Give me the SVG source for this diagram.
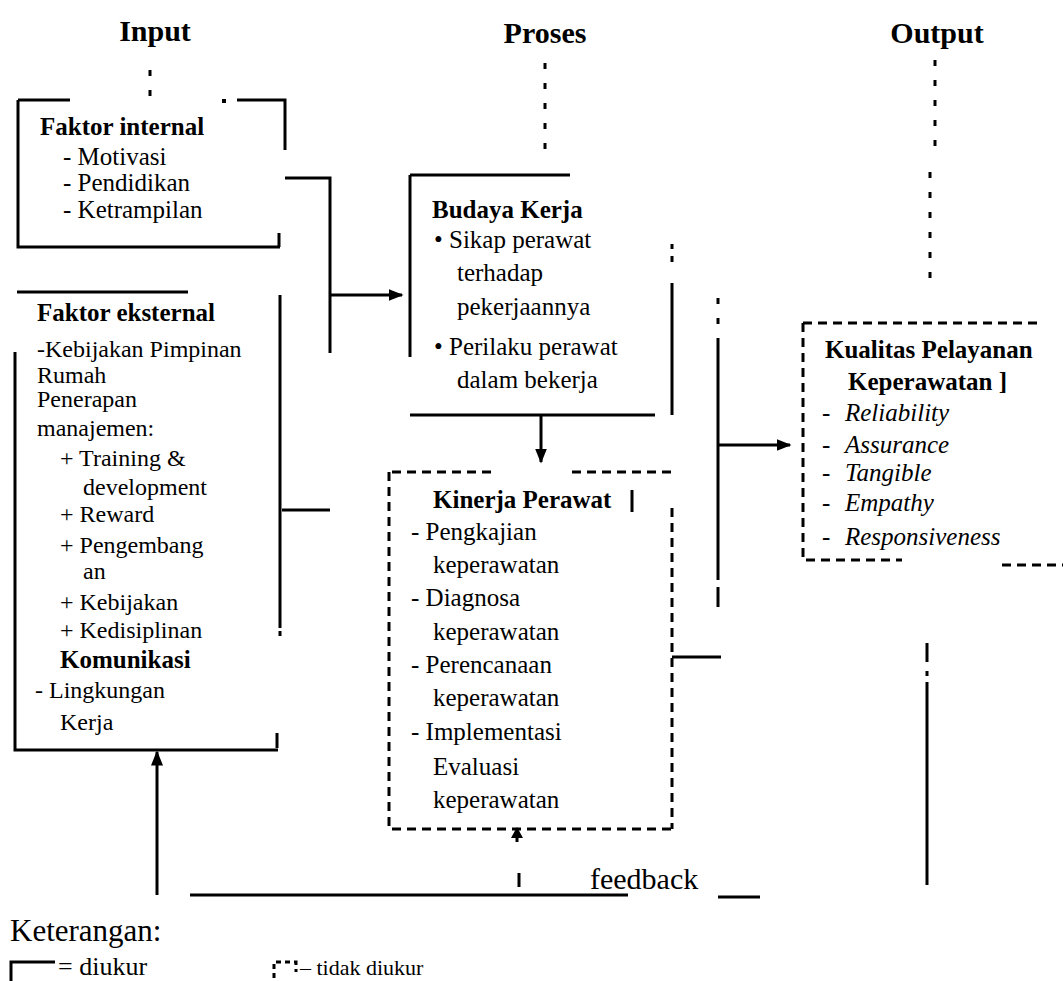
<svg xmlns="http://www.w3.org/2000/svg" width="1063" height="981" viewBox="0 0 1063 981">
<defs>
<style>
text{font-family:"Liberation Serif","Times New Roman",serif;fill:#000}
.t{font-size:30px;font-weight:bold;text-anchor:middle}
.b{font-size:25px;font-weight:bold}
.r{font-size:25px}
.e{font-size:24px}
.i{font-size:25px;font-style:italic}
.s{fill:none;stroke:#000;stroke-width:3}
.d{fill:none;stroke:#000;stroke-width:3;stroke-dasharray:9 6}
.o{fill:none;stroke:#000;stroke-width:3;stroke-dasharray:6 14}
</style>
<marker id="a" viewBox="0 0 10 10" refX="9" refY="5" markerWidth="15" markerHeight="12" orient="auto" markerUnits="userSpaceOnUse" preserveAspectRatio="none">
<path d="M0,0 L10,5 L0,10 z" fill="#000"/>
</marker>
</defs>
<rect width="1063" height="981" fill="#fff"/>

<g id="titles">
<text class="t" x="155" y="41">Input</text>
<text class="t" x="545" y="43">Proses</text>
<text class="t" x="937" y="43">Output</text>
</g>

<g id="node-internal">
<path class="s" d="M18,100 H70 M18,100 V247 H280 M279,233 V247 M237,100 H285 V150"/>
<rect x="222" y="99" width="4" height="4"/>
<text class="b" x="40" y="135">Faktor internal</text>
<text class="r" x="63" y="165">-  Motivasi</text>
<text class="r" x="63" y="191">-  Pendidikan</text>
<text class="r" x="63" y="218">-  Ketrampilan</text>
</g>

<g id="node-eksternal">
<path class="s" d="M17,292 H188 M15,352 V750 H278 M277,733 V748 M280,295 V628 M280,631 V636"/>
<text class="b" x="37" y="321">Faktor eksternal</text>
<text class="e" x="37" y="357">-Kebijakan Pimpinan</text>
<text class="e" x="37" y="383">Rumah</text>
<text class="e" x="37" y="407">Penerapan</text>
<text class="e" x="37" y="436">manajemen:</text>
<text class="e" x="60" y="466">+  Training &amp;</text>
<text class="e" x="83" y="495">development</text>
<text class="e" x="60" y="522">+  Reward</text>
<text class="e" x="60" y="553">+  Pengembang</text>
<text class="e" x="83" y="579">an</text>
<text class="e" x="60" y="610">+  Kebijakan</text>
<text class="e" x="60" y="638">+  Kedisiplinan</text>
<text class="b" x="60" y="668">Komunikasi</text>
<text class="e" x="35" y="698">-  Lingkungan</text>
<text class="e" x="60" y="730">Kerja</text>
</g>

<g id="node-budaya">
<path class="s" d="M410,175 H570 M410,175 V357 M410,415 H655 M672,283 V415"/>
<path class="s" d="M672,244 V249 M672,256 V262"/>
<text class="b" x="432" y="218">Budaya Kerja</text>
<text class="r" x="434" y="248">•  Sikap perawat</text>
<text class="r" x="457" y="281">terhadap</text>
<text class="r" x="457" y="315">pekerjaannya</text>
<text class="r" x="434" y="355">•  Perilaku perawat</text>
<text class="r" x="457" y="388">dalam bekerja</text>
</g>

<g id="node-kinerja">
<path class="d" d="M392,472 H493 M572,472 H673 M672,508 V829 M389,472 V829 H673"/>
<path class="s" d="M632,490 V512"/>
<text class="b" x="433" y="508">Kinerja Perawat</text>
<text class="r" x="411" y="540">-  Pengkajian</text>
<text class="r" x="433" y="573">keperawatan</text>
<text class="r" x="411" y="606">-  Diagnosa</text>
<text class="r" x="433" y="640">keperawatan</text>
<text class="r" x="411" y="673">-  Perencanaan</text>
<text class="r" x="433" y="706">keperawatan</text>
<text class="r" x="411" y="740">-  Implementasi</text>
<text class="r" x="433" y="775">Evaluasi</text>
<text class="r" x="433" y="808">keperawatan</text>
</g>

<g id="node-kualitas">
<path class="d" d="M803,323 H1037 M803,323 V560 H902 M1002,565 H1063"/>
<text class="b" x="825" y="358">Kualitas Pelayanan</text>
<text class="b" x="848" y="390">Keperawatan ]</text>
<text class="r" x="822" y="421">-</text><text class="i" x="845" y="421">Reliability</text>
<text class="r" x="822" y="453">-</text><text class="i" x="845" y="453">Assurance</text>
<text class="r" x="822" y="481">-</text><text class="i" x="845" y="481">Tangible</text>
<text class="r" x="822" y="511">-</text><text class="i" x="845" y="511">Empathy</text>
<text class="r" x="822" y="545">-</text><text class="i" x="845" y="545">Responsiveness</text>
</g>

<g id="connectors">
<path class="o" d="M150,70 V100"/>
<path class="o" d="M545,63 V160"/>
<path class="o" d="M935,60 V152 M930,172 V286"/>
<path class="o" d="M718,298 V340"/>
<path class="s" d="M285,178 H330 V353"/>
<path class="s" d="M330,295 H402" marker-end="url(#a)"/>
<path class="s" d="M282,510 H330"/>
<path class="s" d="M541,415 V462" marker-end="url(#a)"/>
<path class="s" d="M718,340 V580 M718,587 V607"/>
<path class="s" d="M718,445 H790" marker-end="url(#a)"/>
<path class="s" d="M672,657 H721"/>
<path class="s" d="M927,643 V662 M927,671 V676 M927,682 V885"/>
<path d="M511,838 L517,827 L523,838 z"/>
<path class="s" d="M517,836 V842 M519,873 V887"/>
<path class="s" d="M190,895 H628 M718,897 H760"/>
<path class="s" d="M157,895 V752" marker-end="url(#a)"/>
<text x="590" y="889" style="font-size:30px">feedback</text>
</g>

<g id="legend">
<text x="10" y="941" style="font-size:31px">Keterangan:</text>
<path class="s" d="M11,981 V962 H55"/>
<text x="58" y="975" style="font-size:26px">= diukur</text>
<path class="s" d="M274,978 V962 H296 V972" stroke-dasharray="5 4"/>
<text x="300" y="975" style="font-size:22px">– tidak diukur</text>
</g>
</svg>
